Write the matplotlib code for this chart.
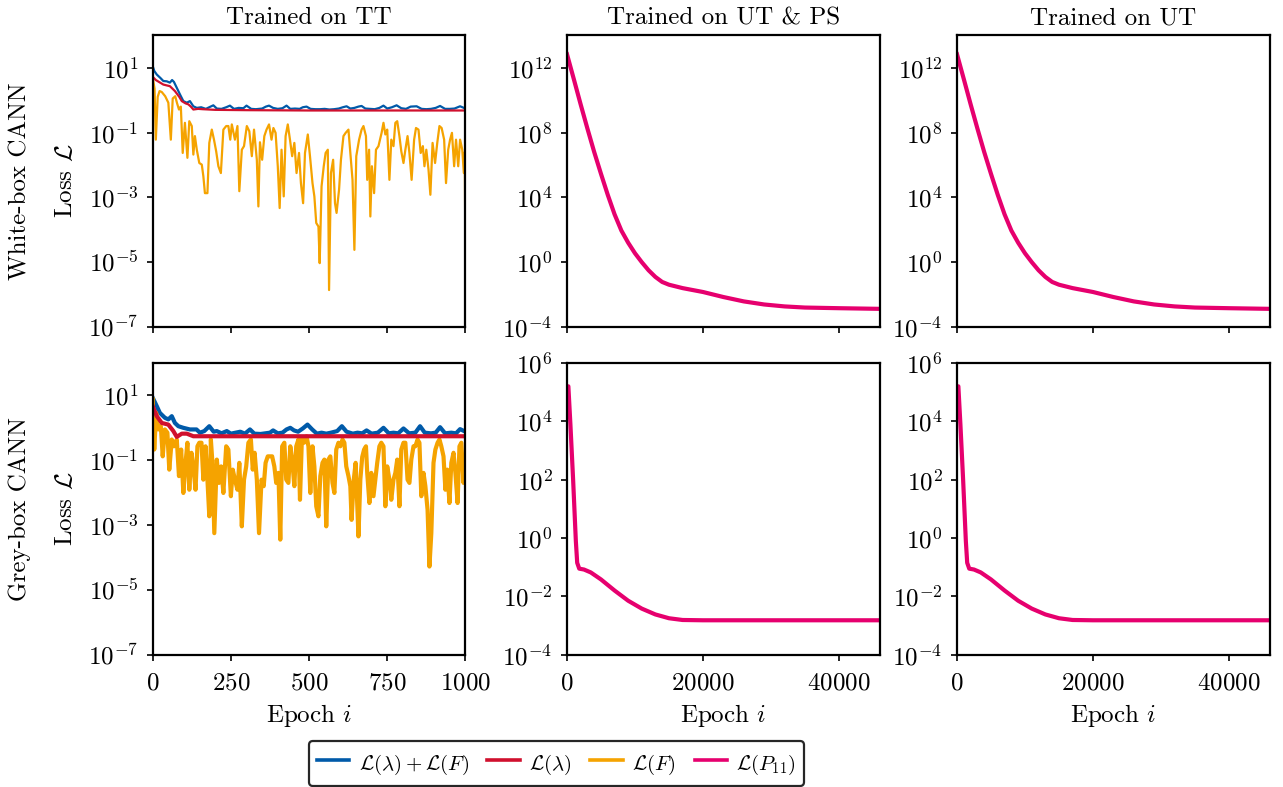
import numpy as np
import matplotlib
matplotlib.use("Agg")
import matplotlib.pyplot as plt
from matplotlib.lines import Line2D

plt.rcParams["font.family"] = "serif"
plt.rcParams["font.serif"] = ["cmr10"]
plt.rcParams["mathtext.fontset"] = "cm"
plt.rcParams["axes.formatter.use_mathtext"] = True
plt.rcParams["axes.unicode_minus"] = False
plt.rcParams["font.size"] = 9

C_TOT = "#005AA9"   # L(lambda) + L(F)
C_LAM = "#D0102E"   # L(lambda)
C_F = "#F5A300"     # L(F)
C_P11 = "#E6006E"   # L(P11)

# ---- trained on TT, white-box CANN (log10 of loss) ----
tt_w_F_ep = [0, 6, 10, 16, 22, 29, 40, 50, 58, 64, 72, 78, 84, 90, 96, 103, 111, 117, 125, 130,
             135, 141, 149, 157, 162, 167, 175, 181, 189, 196, 203, 210, 218, 226, 235, 242, 248, 253, 263, 271,
             277, 285, 292, 301, 309, 317, 324, 333, 338, 343, 350, 357, 364, 372, 380, 386, 393, 400, 406, 412,
             419, 425, 432, 439, 446, 453, 460, 468, 474, 481, 487, 496, 503, 511, 517, 523, 530, 534, 540, 547,
             553, 560, 564, 570, 577, 583, 588, 596, 602, 610, 617, 626, 632, 639, 645, 651, 660, 668, 674, 682,
             686, 692, 696, 701, 708, 714, 722, 727, 732, 738, 744, 750, 757, 763, 770, 776, 782, 789, 795, 802,
             808, 815, 821, 828, 836, 842, 850, 857, 864, 869, 875, 882, 888, 895, 903, 910, 917, 924, 932, 938,
             945, 951, 957, 964, 970, 977, 983, 990, 995, 998, 1000]
tt_w_F = [0.70, 0.35, -1.22, 0.10, 0.28, 0.25, 0.12, -0.08, -1.22, 0.05, 0.12, -0.10, -0.29, -0.20, -1.63, -0.70, -1.78, -0.65, -0.80, -1.68,
          -1.11, -1.53, -1.94, -1.99, -2.35, -2.87, -2.87, -1.32, -0.91, -1.22, -1.58, -2.04, -2.25, -0.91, -0.80, -0.80, -1.22, -0.75, -1.22, -0.80,
          -2.81, -1.53, -1.42, -0.80, -0.96, -1.73, -0.91, -1.84, -3.28, -1.30, -1.84, -1.11, -0.91, -0.75, -1.22, -0.86, -1.01, -2.04, -3.33, -1.53,
          -2.97, -1.11, -0.75, -1.22, -1.73, -1.32, -2.25, -1.63, -2.56, -3.18, -1.63, -1.06, -1.73, -2.56, -2.97, -3.79, -3.90, -5.03, -2.66, -2.04,
          -1.63, -1.53, -5.86, -2.25, -1.84, -3.18, -3.48, -2.76, -1.84, -1.11, -1.01, -0.91, -1.63, -2.46, -4.62, -1.73, -1.22, -0.91, -0.80, -1.11,
          -2.46, -1.53, -3.59, -2.04, -2.87, -1.53, -1.42, -1.22, -1.01, -0.70, -1.06, -0.91, -2.46, -1.22, -1.42, -0.70, -0.65, -1.11, -1.58, -1.94,
          -1.53, -1.11, -1.63, -2.46, -1.22, -0.86, -0.91, -1.63, -1.42, -2.04, -1.53, -2.14, -2.92, -1.32, -1.94, -1.32, -0.80, -0.86, -1.22, -2.56,
          -1.53, -1.22, -1.01, -2.04, -1.22, -2.04, -1.22, -1.53, -2.25, -1.60, -4.93]

tt_w_tot_ep = [0, 5, 13, 25, 34, 45, 55, 62, 68, 77, 87, 98, 109, 119, 130, 141, 155, 170, 185, 194,
               205, 220, 235, 247, 260, 275, 290, 300, 315, 330, 350, 362, 372, 385, 400, 415, 428, 440, 455, 470,
               480, 492, 505, 520, 535, 550, 565, 580, 595, 608, 620, 632, 645, 658, 668, 680, 695, 710, 725, 738,
               750, 765, 780, 795, 810, 825, 844, 860, 875, 890, 905, 919, 935, 950, 965, 983, 1000]
tt_w_tot = [1.05, 0.90, 0.79, 0.68, 0.59, 0.58, 0.54, 0.62, 0.56, 0.38, 0.18, -0.03, -0.08, -0.03, -0.19, -0.24, -0.22, -0.27, -0.20, -0.16,
            -0.26, -0.27, -0.22, -0.17, -0.27, -0.24, -0.25, -0.17, -0.27, -0.28, -0.26, -0.20, -0.17, -0.24, -0.27, -0.25, -0.17, -0.27, -0.26, -0.27,
            -0.22, -0.20, -0.27, -0.28, -0.28, -0.27, -0.29, -0.28, -0.26, -0.22, -0.19, -0.26, -0.24, -0.20, -0.18, -0.26, -0.27, -0.28, -0.24, -0.17,
            -0.26, -0.22, -0.16, -0.25, -0.27, -0.20, -0.19, -0.27, -0.28, -0.27, -0.24, -0.18, -0.27, -0.27, -0.26, -0.19, -0.26]

tt_w_lam_ep = [0, 10, 34, 55, 71, 85, 93, 105, 114, 122, 130, 145, 160, 200, 300, 500, 1000]
tt_w_lam = [0.72, 0.62, 0.48, 0.43, 0.28, 0.10, -0.03, -0.10, -0.13, -0.20, -0.29, -0.27, -0.28, -0.30, -0.31, -0.32, -0.32]

# ---- trained on TT, grey-box CANN (log10 of loss) ----
tt_g_F_ep = [0, 5, 11, 18, 26, 32, 39, 47, 53, 61, 68, 77, 84, 91, 98, 105, 111, 117, 124, 130,
             137, 143, 149, 156, 162, 169, 175, 181, 186, 191, 197, 205, 212, 219, 226, 235, 242, 250, 256, 263,
             271, 277, 285, 292, 299, 306, 314, 320, 326, 333, 340, 348, 355, 361, 368, 375, 382, 389, 395, 402,
             408, 414, 421, 427, 434, 440, 446, 453, 459, 466, 471, 477, 484, 492, 498, 504, 511, 517, 523, 530,
             536, 543, 549, 555, 562, 568, 575, 581, 587, 594, 600, 607, 613, 619, 626, 632, 636, 643, 649, 658,
             664, 670, 676, 682, 686, 693, 699, 706, 712, 718, 725, 731, 738, 744, 750, 757, 763, 770, 776, 782,
             789, 795, 802, 808, 815, 821, 827, 834, 840, 847, 853, 859, 866, 872, 879, 885, 891, 898, 904, 911,
             917, 923, 930, 936, 942, 949, 955, 962, 968, 975, 981, 987, 994, 997, 1000]
tt_g_F = [0.88, -0.67, 0.46, -0.05, 0.05, -0.88, -0.05, -0.15, -1.29, -0.36, -0.57, -0.36, -1.49, -0.67, -2.01, -1.08, -0.46, -1.91, -0.77, -1.19,
          -1.91, -0.57, -0.46, -0.46, -1.60, -0.57, -1.60, -2.73, -0.36, -1.08, -3.25, -0.98, -1.70, -1.19, -2.01, -0.57, -0.67, -2.11, -1.29, -1.60,
          -1.91, -1.08, -3.04, -1.60, -1.19, -0.46, -0.36, -1.29, -0.77, -1.60, -3.25, -1.60, -1.80, -1.08, -0.88, -0.88, -0.88, -1.19, -1.70, -1.39,
          -3.45, -0.57, -0.46, -1.60, -1.70, -0.57, -0.98, -1.80, -0.57, -0.36, -2.22, -0.36, -0.46, -0.26, -0.57, -2.01, -0.57, -1.19, -2.42, -2.73,
          -1.49, -1.08, -0.98, -3.04, -0.98, -0.88, -1.70, -2.01, -0.67, -0.46, -0.57, -0.36, -0.46, -1.19, -1.49, -1.80, -2.84, -1.60, -1.08, -3.35,
          -1.60, -0.90, -0.67, -0.57, -1.39, -2.32, -1.39, -2.11, -1.60, -1.08, -0.57, -0.46, -0.57, -2.42, -1.19, -1.60, -2.22, -1.60, -1.39, -0.98,
          -2.42, -0.67, -0.46, -0.46, -1.60, -1.70, -0.98, -0.57, -0.57, -0.36, -0.46, -2.11, -1.39, -1.80, -2.53, -4.28, -3.25, -1.08, -0.67, -0.46,
          -0.36, -0.57, -0.88, -1.91, -1.29, -2.32, -1.08, -0.77, -1.39, -2.32, -0.57, -0.46, -1.70, -1.08, -1.40]

tt_g_tot_ep = [0, 13, 23, 39, 50, 61, 71, 82, 98, 119, 140, 151, 165, 181, 195, 205, 220, 237, 250, 265,
               280, 295, 311, 325, 345, 360, 375, 385, 400, 415, 428, 440, 452, 465, 480, 495, 510, 525, 540, 555,
               570, 590, 605, 620, 640, 655, 670, 684, 700, 720, 738, 755, 770, 785, 802, 820, 840, 855, 870, 890,
               905, 919, 935, 955, 970, 983, 1000]
tt_g_tot = [0.93, 0.67, 0.46, 0.31, 0.26, 0.36, 0.15, 0.05, 0.00, -0.05, -0.05, -0.15, -0.10, 0.05, -0.12, -0.10, -0.17, -0.10, -0.18, -0.15,
            -0.12, -0.18, -0.05, -0.18, -0.19, -0.17, -0.15, -0.08, -0.17, -0.15, -0.05, 0.00, -0.08, -0.12, -0.02, 0.10, -0.05, -0.18, -0.15, -0.18,
            -0.15, -0.10, 0.05, -0.12, -0.18, -0.15, -0.17, -0.08, -0.18, -0.15, 0.00, -0.17, -0.15, -0.17, -0.02, -0.17, -0.15, 0.05, -0.15, -0.17,
            -0.15, 0.02, -0.17, -0.15, -0.17, -0.04, -0.12]

tt_g_lam_ep = [0, 13, 29, 50, 66, 77, 93, 109, 130, 1000]
tt_g_lam = [0.67, 0.36, 0.15, 0.10, -0.10, -0.28, -0.18, -0.18, -0.26, -0.26]

# ---- trained on UT & PS / UT: L(P11) (log10 of loss) ----
w_P11_ep = [0, 1000, 2000, 3000, 4000, 5000, 6000, 7000, 8000, 9000, 10000, 11000, 12000, 13000, 14000,
            15000, 17000, 20000, 23000, 26000, 29000, 32000, 35000, 40000, 46000]
ps_w_P11 = [12.83, 11.30, 9.75, 8.25, 6.80, 5.45, 4.15, 2.95, 1.95, 1.20, 0.55, 0.00, -0.50, -0.91, -1.22,
            -1.39, -1.60, -1.84, -2.15, -2.42, -2.61, -2.73, -2.80, -2.84, -2.88]
ut_w_P11 = [12.83, 11.30, 9.75, 8.25, 6.80, 5.45, 4.15, 2.95, 1.95, 1.20, 0.55, 0.00, -0.50, -0.91, -1.22,
            -1.39, -1.60, -1.84, -2.15, -2.42, -2.61, -2.73, -2.80, -2.84, -2.88]

g_P11_ep = [0, 200, 500, 900, 1300, 1500, 1800, 2500, 3500, 5000, 7000, 9000, 11000, 13000, 15000, 17000, 20000, 46000]
ps_g_P11 = [5.20, 5.20, 3.90, 2.00, -0.10, -0.85, -1.05, -1.08, -1.18, -1.42, -1.80, -2.15, -2.42, -2.62, -2.75, -2.81, -2.82, -2.82]
ut_g_P11 = [5.20, 5.20, 3.90, 2.00, -0.10, -0.85, -1.05, -1.08, -1.18, -1.42, -1.80, -2.15, -2.42, -2.62, -2.75, -2.81, -2.82, -2.82]

titles = ["Trained on TT", "Trained on UT & PS", "Trained on UT"]
rows = ["White-box CANN", "Grey-box CANN"]

W, H = 1283, 787
fig = plt.figure(figsize=(W / 200, H / 200), dpi=200)
lefts = [152.7, 567.0, 957.0]
tops = [35.3, 363.0]
aw, ah = 312.7, 291.7
axes = [[fig.add_axes([l / W, 1 - (t + ah) / H, aw / W, ah / H]) for l in lefts] for t in tops]

def lg(v):
    return 10.0 ** np.asarray(v)

# left column
for r, (F_ep, F, tot_ep, tot, lam_ep, lam, lw) in enumerate([
        (tt_w_F_ep, tt_w_F, tt_w_tot_ep, tt_w_tot, tt_w_lam_ep, tt_w_lam, 0.8),
        (tt_g_F_ep, tt_g_F, tt_g_tot_ep, tt_g_tot, tt_g_lam_ep, tt_g_lam, 1.5)]):
    ax = axes[r][0]
    ax.plot(tot_ep, lg(tot), color=C_TOT, lw=lw)
    ax.plot(F_ep, lg(F), color=C_F, lw=lw)
    ax.plot(lam_ep, lg(lam), color=C_LAM, lw=lw)
    ax.set_yscale("log")
    ax.set_xlim(0, 1000)
    ax.set_ylim(1e-7, 1e2)
    ax.set_yticks([1e-7, 1e-5, 1e-3, 1e-1, 1e1])
    ax.set_xticks([0, 250, 500, 750, 1000])
    ax.set_ylabel(r"Loss $\mathcal{L}$")
    ax.yaxis.set_label_coords(-0.242, 0.5)
    fig.text(20 / W, 1 - (tops[r] + ah / 2) / H, rows[r], rotation=90, ha="center", va="center")

# P11 columns
for c, (yw, yg) in zip([1, 2], [(ps_w_P11, ps_g_P11), (ut_w_P11, ut_g_P11)]):
    ax = axes[0][c]
    ax.plot(w_P11_ep, lg(yw), color=C_P11, lw=1.5)
    ax.set_yscale("log")
    ax.set_ylim(1e-4, 1e14)
    ax.set_yticks([1e-4, 1e0, 1e4, 1e8, 1e12])
    ax = axes[1][c]
    ax.plot(g_P11_ep, lg(yg), color=C_P11, lw=1.5)
    ax.set_yscale("log")
    ax.set_ylim(1e-4, 1e6)
    ax.set_yticks([1e-4, 1e-2, 1e0, 1e2, 1e4, 1e6])
    for r in range(2):
        axes[r][c].set_xlim(0, 46000)
        axes[r][c].set_xticks([0, 20000, 40000])

for r in range(2):
    for c in range(3):
        ax = axes[r][c]
        ax.yaxis.set_minor_locator(plt.NullLocator())
        ax.tick_params(length=2.2, width=0.6)
        ax.tick_params(axis="x", pad=4)
        ax.tick_params(axis="y", pad=3)
        if r == 0:
            ax.set_xticklabels([])
            ax.set_title(titles[c], pad=4, fontsize=9)
        else:
            ax.set_xlabel(r"Epoch $i$", labelpad=3)

handles = [Line2D([], [], color=C_TOT, lw=1.3), Line2D([], [], color=C_LAM, lw=1.3),
           Line2D([], [], color=C_F, lw=1.3), Line2D([], [], color=C_P11, lw=1.3)]
labels = [r"$\mathcal{L}(\lambda)+\mathcal{L}(F)$", r"$\mathcal{L}(\lambda)$",
          r"$\mathcal{L}(F)$", r"$\mathcal{L}(P_{11})$"]
leg = fig.legend(handles, labels, loc="lower center", bbox_to_anchor=(556.5 / W, 1.0 / H),
                 ncol=4, frameon=True, fancybox=True, framealpha=1, edgecolor="0.15", fontsize=7.5,
                 handlelength=1.55, handleheight=1.7, handletextpad=0.45, columnspacing=0.9,
                 borderpad=0.4, borderaxespad=0)
leg.get_frame().set_linewidth(0.8)

fig.savefig("out.png", dpi=200)
